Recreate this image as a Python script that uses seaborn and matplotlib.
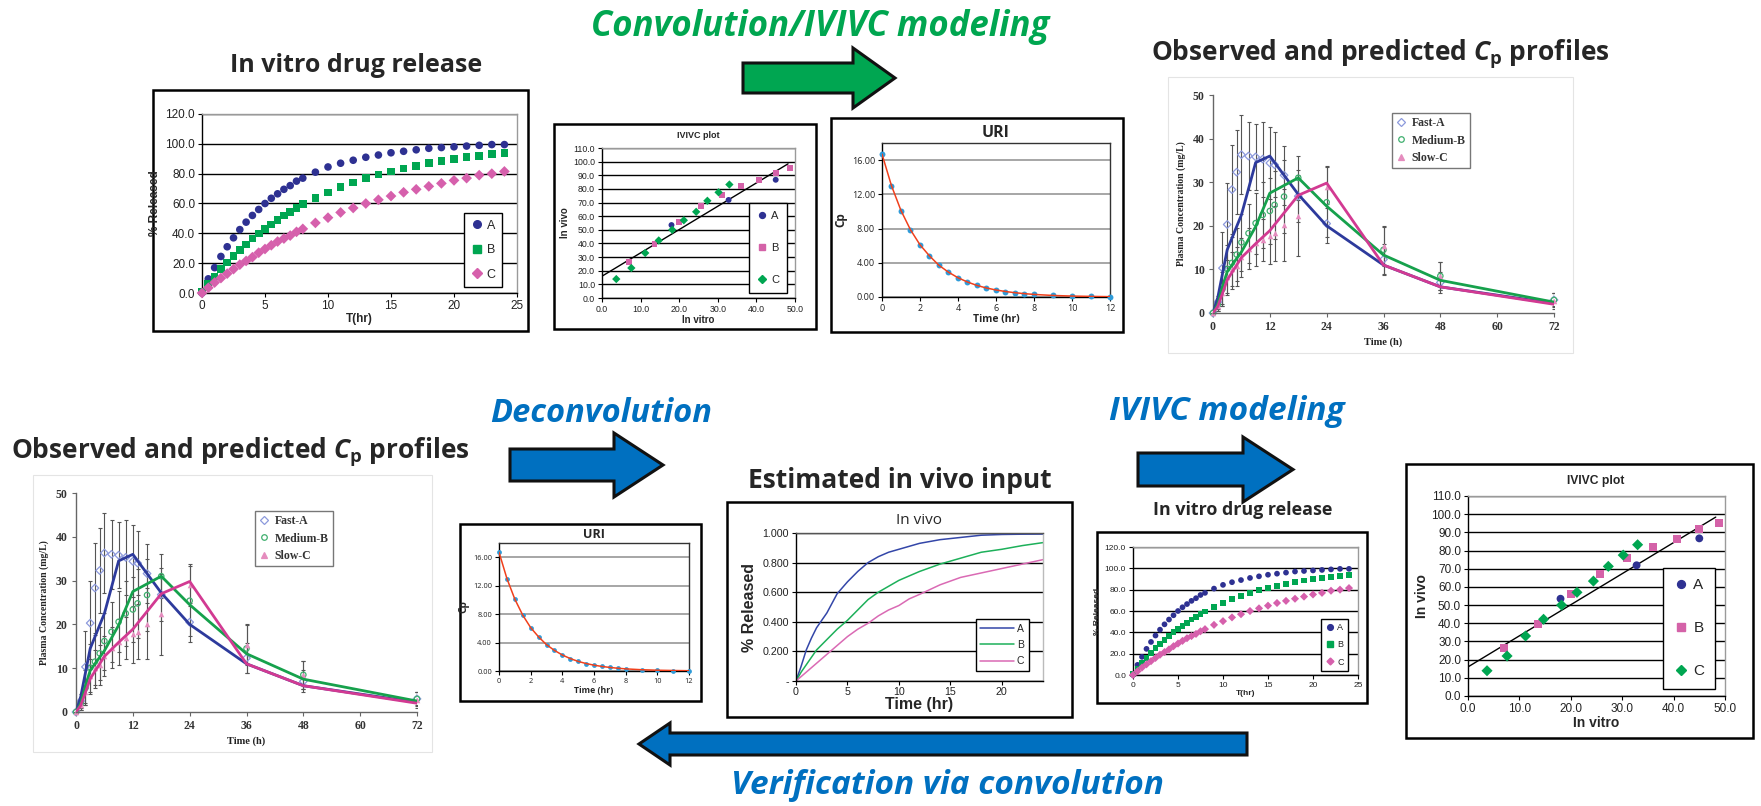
import numpy as np
import pandas as pd
import matplotlib
matplotlib.use("Agg")
import matplotlib.pyplot as plt
from matplotlib.patches import Rectangle, Polygon
from matplotlib.lines import Line2D
from matplotlib.ticker import FuncFormatter
import seaborn as sns

sns.set_theme(style="white")
plt.rcParams["font.family"] = ["Liberation Sans", "DejaVu Sans"]
plt.rcParams["mathtext.fontset"] = "custom"
plt.rcParams["mathtext.rm"] = "Open Sans:bold"
plt.rcParams["mathtext.it"] = "Open Sans:bold:italic"
plt.rcParams["mathtext.bf"] = "Open Sans:bold"

# ---------------- data ----------------
# in vitro dissolution, % released
release_t = [0, 0.5, 1, 1.5, 2, 2.5, 3, 3.5, 4, 4.5, 5, 5.5, 6, 6.5, 7, 7.5, 8,
             9, 10, 11, 12, 13, 14, 15, 16, 17, 18, 19, 20, 21, 22, 23, 24]
release_a = [0, 9.5, 17, 24.5, 31, 37, 42.5, 47.5, 52, 56, 60, 63.5, 66.5, 69.5, 72, 75, 77,
             81, 84.5, 87, 89, 91, 92.5, 94, 95, 96, 97, 97.5, 98, 98.5, 99, 99.5, 99.5]
release_b = [1, 6, 11, 16, 20.5, 25, 29, 32.5, 36.5, 40, 43, 46, 49, 52, 54.5, 57, 59.5,
             63.5, 67.5, 71, 74, 77, 79.5, 81.5, 83.5, 85, 87, 88.5, 90, 91, 92, 93, 94]
release_c = [0, 3.5, 7, 10, 13, 16, 19, 21.5, 24, 27, 29.5, 32, 34.5, 36.5, 38.5, 41, 43,
             47, 50.5, 54, 57, 60, 62.5, 65, 67.5, 69.5, 71.5, 73.5, 75.5, 77, 79, 80, 81.5]

# IVIVC: fraction dissolved in vitro vs fraction absorbed in vivo
ivivc_a_vitro = [18.0, 32.8, 45.0]
ivivc_a_vivo = [53.5, 71.9, 86.7]
ivivc_b_vitro = [6.95, 13.6, 20.0, 25.6, 31.0, 36.0, 40.7, 45.0, 48.8]
ivivc_b_vivo = [26.4, 39.4, 55.9, 67.3, 75.7, 82.1, 86.5, 91.8, 95.3]
ivivc_c_vitro = [3.7, 7.6, 11.2, 14.7, 18.2, 21.2, 24.4, 27.3, 30.2, 33.0]
ivivc_c_vivo = [13.9, 22.0, 33.0, 42.2, 50.0, 57.0, 63.2, 71.3, 77.5, 83.2]
fit_vitro = [0.0, 48.2]
fit_vivo = [16.0, 98.4]

# unit response (IV bolus) profile
uri_t = [0, 0.5, 1, 1.5, 2, 2.5, 3, 3.5, 4, 4.5, 5, 5.5, 6, 6.5, 7, 7.5, 8, 9, 10, 11, 12]
uri_cp = [16.7, 13.0, 10.1, 7.85, 6.1, 4.8, 3.7, 2.9, 2.25, 1.75, 1.35, 1.05, 0.82, 0.64,
          0.5, 0.39, 0.3, 0.18, 0.11, 0.07, 0.04]

# deconvolved in vivo input (fraction absorbed)
invivo_t = [0, 0.5, 1, 1.5, 2, 3, 4, 5, 6, 7, 8, 9, 10, 11, 12, 14, 16, 18, 20, 22, 24]
invivo_a = [0, 0.10, 0.21, 0.29, 0.36, 0.46, 0.59, 0.67, 0.74, 0.80, 0.84, 0.87, 0.89, 0.91,
            0.93, 0.955, 0.97, 0.985, 0.99, 0.992, 0.993]
invivo_b = [0, 0.06, 0.11, 0.16, 0.21, 0.28, 0.35, 0.41, 0.48, 0.55, 0.60, 0.64, 0.68, 0.71,
            0.74, 0.79, 0.83, 0.87, 0.89, 0.915, 0.935]
invivo_c = [0, 0.03, 0.06, 0.09, 0.12, 0.18, 0.24, 0.30, 0.35, 0.39, 0.44, 0.48, 0.51, 0.555,
            0.585, 0.65, 0.70, 0.73, 0.76, 0.79, 0.82]

# plasma concentration: predicted lines and observed mean +/- SD
pred_t = [0, 1, 2, 3, 6, 9, 12, 18, 24, 36, 48, 72]
pred_fast = [0, 3.5, 9, 14.5, 22.5, 34.5, 36, 27.2, 20, 11, 6, 2.2]
pred_medium = [0, 2, 6, 9.5, 14, 19.8, 27.5, 31, 24.5, 13.3, 7.5, 2.5]
pred_slow = [0, 1.5, 4.5, 7.6, 12.7, 15.9, 18.9, 27, 29.8, 11, 6, 2]

obs_t = [0, 1, 2, 3, 4, 5, 6, 7.5, 9, 10.5, 12, 13, 15, 18, 24, 36, 48, 72]
obs_fast = [0, 2.5, 10.3, 20.3, 28.3, 32.3, 36.3, 36.0, 35.8, 35.3, 34.4, 34.0, 31.6, 26.8,
            20.5, 12.3, 7.0, 3.0]
sd_fast = [0, 1.5, 8.2, 9.6, 10.2, 9.7, 9.1, 7.9, 7.6, 8.6, 8.2, 7.4, 6.8, 6.0, 4.5, 3.5, 2.5, 1.5]
obs_medium = [0, 2.0, 5.5, 10.1, 11.5, 13.4, 16.2, 18.3, 20.6, 22.5, 23.4, 24.8, 26.7, 31.0,
              25.4, 14.5, 8.5, 3.0]
sd_medium = [0, 1.5, 4.0, 5.5, 6.0, 6.0, 6.5, 6.8, 7.0, 7.5, 7.5, 7.8, 8.3, 5.0, 8.0, 5.5, 3.2, 1.6]
obs_slow = [0, 1.5, 4.6, 8.2, 10.1, 10.7, 12.8, 14.7, 16.0, 16.8, 17.7, 18.3, 20.2, 22.3,
            28.9, 15.3, 8.4, 2.7]
sd_slow = [0, 1.0, 3.0, 4.0, 4.0, 4.5, 4.5, 4.7, 5.3, 4.8, 6.4, 6.3, 8.2, 9.3, 4.8, 4.5, 3.2, 1.8]

lots = ["A", "B", "C"]
cp_names = ["Fast-A", "Medium-B", "Slow-C"]

# ---------------- styles ----------------
NAVY, GREEN, PINK = "#2E3192", "#00A651", "#D660AC"
release_palette = {"A": NAVY, "B": GREEN, "C": PINK}
release_markers = {"A": "o", "B": "s", "C": "D"}
ivivc_palette = {"A": NAVY, "B": "#D462A8", "C": "#00A651"}
ivivc_markers = {"A": "o", "B": "s", "C": "D"}
invivo_palette = {"A": "#3346A8", "B": "#1DB05A", "C": "#DA6AB4"}
cp_line = {"Fast-A": "#2D3A9C", "Medium-B": "#16A14C", "Slow-C": "#D23A92"}
cp_mark = {"Fast-A": "#8C99DC", "Medium-B": "#3FAF6E", "Slow-C": "#E58CBE"}
cp_shape = {"Fast-A": "D", "Medium-B": "o", "Slow-C": "^"}
TITLE_FONT = ["Open Sans", "DejaVu Sans"]
SERIF = ["Liberation Serif", "DejaVu Serif"]

W, H = 1761, 806
fig = plt.figure(figsize=(W / 100, H / 100), dpi=100)
fig.patch.set_facecolor("white")

deco = fig.add_axes([0, 0, 1, 1])
deco.set_xlim(0, W)
deco.set_ylim(H, 0)
deco.axis("off")


def ax_px(x0, y0, x1, y1):
    return fig.add_axes([x0 / W, 1 - y1 / H, (x1 - x0) / W, (y1 - y0) / H])


def frame(x0, y0, x1, y1, color="black", lw=1.8):
    deco.add_patch(Rectangle((x0, y0), x1 - x0, y1 - y0, fill=False, ec=color, lw=lw))


def arrow(x_tail, x_neck, x_tip, yc, body, head, color):
    pts = [(x_tail, yc - body), (x_neck, yc - body), (x_neck, yc - head), (x_tip, yc),
           (x_neck, yc + head), (x_neck, yc + body), (x_tail, yc + body)]
    deco.add_patch(Polygon(pts, closed=True, fc=color, ec="#111111", lw=2.2, joinstyle="miter"))


def style_excel(ax, fs, grid="black", frame_c="#9a9a9a", grid_lw=1.0):
    ax.set_facecolor("white")
    for s, sp in ax.spines.items():
        sp.set_visible(True)
        sp.set_linewidth(1.0)
        sp.set_color("black" if s in ("left", "bottom") else frame_c)
    ax.yaxis.grid(True, color=grid, lw=grid_lw)
    ax.xaxis.grid(False)
    ax.set_axisbelow(True)
    ax.tick_params(axis="both", direction="out", length=3, width=0.8, color="black",
                   labelsize=fs, pad=2, bottom=True, left=True, labelcolor="#222222")


def box_legend(ax, handles, labels, fs, spacing, anchor, loc="lower right", pad=0.5, hl=1.0):
    leg = ax.legend(handles, labels, loc=loc, bbox_to_anchor=anchor, fontsize=fs,
                    frameon=True, fancybox=False, framealpha=1, edgecolor="black",
                    labelspacing=spacing, borderpad=pad, handlelength=hl,
                    handletextpad=0.3, borderaxespad=0)
    leg.get_frame().set_linewidth(1.0)
    return leg


def draw_release(ax, fs, lab_fs, ms, leg_fs, leg_sp, anchor):
    n = len(release_t)
    df = pd.DataFrame({"T": release_t * 3,
                       "released": release_a + release_b + release_c,
                       "lot": ["A"] * n + ["B"] * n + ["C"] * n})
    sns.scatterplot(data=df, x="T", y="released", hue="lot", style="lot",
                    palette=release_palette, markers=release_markers, s=ms,
                    linewidth=0, legend=False, ax=ax, clip_on=False, zorder=3)
    ax.set_xlim(0, 25)
    ax.set_ylim(0, 120)
    ax.set_xticks(range(0, 26, 5))
    ax.set_yticks(range(0, 121, 20))
    ax.yaxis.set_major_formatter(FuncFormatter(lambda v, p: f"{v:.1f}"))
    style_excel(ax, fs)
    ax.set_xlabel("T(hr)", fontsize=lab_fs, fontweight="bold", labelpad=1)
    ax.set_ylabel("% Released", fontsize=lab_fs, fontweight="bold", labelpad=3)
    hs = [Line2D([], [], ls="none", marker=release_markers[k], color=release_palette[k],
                 markersize=np.sqrt(ms) * (0.85 if k == "C" else 1.0)) for k in lots]
    box_legend(ax, hs, lots, leg_fs, leg_sp, anchor)


def draw_ivivc(ax, fs, lab_fs, ms, leg_fs, leg_sp, anchor):
    df = pd.DataFrame({
        "vitro": ivivc_a_vitro + ivivc_b_vitro + ivivc_c_vitro,
        "vivo": ivivc_a_vivo + ivivc_b_vivo + ivivc_c_vivo,
        "lot": ["A"] * len(ivivc_a_vitro) + ["B"] * len(ivivc_b_vitro) + ["C"] * len(ivivc_c_vitro)})
    sns.lineplot(x=fit_vitro, y=fit_vivo, color="black", lw=1.0, ax=ax, zorder=2)
    sns.scatterplot(data=df, x="vitro", y="vivo", hue="lot", style="lot",
                    palette=ivivc_palette, markers=ivivc_markers, s=ms,
                    linewidth=0, legend=False, ax=ax, zorder=3)
    ax.set_xlim(0, 50)
    ax.set_ylim(0, 110)
    ax.set_xticks(range(0, 51, 10))
    ax.set_yticks(range(0, 111, 10))
    fmt = FuncFormatter(lambda v, p: f"{v:.1f}")
    ax.xaxis.set_major_formatter(fmt)
    ax.yaxis.set_major_formatter(fmt)
    style_excel(ax, fs)
    ax.set_xlabel("In vitro", fontsize=lab_fs, fontweight="bold", labelpad=1)
    ax.set_ylabel("In vivo", fontsize=lab_fs, fontweight="bold", labelpad=2)
    hs = [Line2D([], [], ls="none", marker=ivivc_markers[k], color=ivivc_palette[k],
                 markersize=np.sqrt(ms) * (0.85 if k == "C" else 1.0)) for k in lots]
    box_legend(ax, hs, lots, leg_fs, leg_sp, anchor, pad=0.7)


def draw_uri(ax, fs, lab_fs, ms):
    sns.scatterplot(x=uri_t, y=uri_cp, color="#2F9BD8", s=ms, marker="o", linewidth=0,
                    ax=ax, zorder=3, clip_on=False)
    sns.lineplot(x=uri_t, y=uri_cp, color="#F0401C", lw=1.1, ax=ax, zorder=4)
    ax.set_xlim(0, 12)
    ax.set_ylim(0, 18)
    ax.set_xticks(range(0, 13, 2))
    ax.set_yticks(range(0, 17, 4))
    ax.yaxis.set_major_formatter(FuncFormatter(lambda v, p: f"{v:.2f}"))
    style_excel(ax, fs, grid="#A6A6A6", frame_c="#333333", grid_lw=1.4)
    for lab in ax.get_xticklabels() + ax.get_yticklabels():
        lab.set_family(TITLE_FONT)
    ax.set_xlabel("Time (hr)", fontsize=lab_fs, fontweight="bold", family=TITLE_FONT, labelpad=1)
    ax.set_ylabel("Cp", fontsize=lab_fs + 1, fontweight="bold", family=TITLE_FONT, labelpad=3)


def draw_invivo(ax):
    n = len(invivo_t)
    df = pd.DataFrame({"t": invivo_t * 3, "frac": invivo_a + invivo_b + invivo_c,
                       "lot": ["A"] * n + ["B"] * n + ["C"] * n})
    sns.lineplot(data=df, x="t", y="frac", hue="lot", palette=invivo_palette, lw=1.1,
                 legend=False, ax=ax)
    ax.set_xlim(0, 24)
    ax.set_ylim(0, 1.0)
    ax.set_xticks(range(0, 21, 5))
    ax.set_yticks(np.arange(0, 1.01, 0.2))
    ax.yaxis.set_major_formatter(FuncFormatter(lambda v, p: "-" if abs(v) < 1e-9 else f"{v:.3f}"))
    style_excel(ax, 7.7, frame_c="#bbbbbb")
    ax.spines["top"].set_color("#555555")
    ax.tick_params(axis="x", length=3, pad=1.5)
    ax.set_xlabel("Time (hr)", fontsize=11.5, fontweight="bold", labelpad=0)
    ax.set_ylabel("% Released", fontsize=11.5, fontweight="bold", labelpad=4)
    hs = [Line2D([], [], color=invivo_palette[k], lw=1.1) for k in lots]
    box_legend(ax, hs, lots, 7.5, 0.6, (0.943, 0.068), hl=3.2, pad=0.45)


def draw_cp(ax):
    pred = pd.DataFrame({"t": pred_t * 3, "cp": pred_fast + pred_medium + pred_slow,
                         "form": [cp_names[0]] * len(pred_t) + [cp_names[1]] * len(pred_t)
                         + [cp_names[2]] * len(pred_t)})
    obs = {cp_names[0]: (obs_fast, sd_fast), cp_names[1]: (obs_medium, sd_medium),
           cp_names[2]: (obs_slow, sd_slow)}
    for name, (m, sd) in obs.items():
        ax.errorbar(obs_t, m, yerr=sd, fmt="none", ecolor="#555555", elinewidth=0.8,
                    capsize=1.6, capthick=0.8, zorder=1)
    for name, (m, sd) in obs.items():
        if name == "Slow-C":
            sns.scatterplot(x=obs_t, y=m, marker=cp_shape[name], s=16, color=cp_mark[name],
                            linewidth=0, ax=ax, zorder=2, clip_on=False)
        else:
            sns.scatterplot(x=obs_t, y=m, marker=cp_shape[name], s=15, color=cp_mark[name],
                            facecolor="none", edgecolor=cp_mark[name], linewidth=0.9,
                            ax=ax, zorder=2, clip_on=False)
    sns.lineplot(data=pred, x="t", y="cp", hue="form", palette=cp_line, lw=2.0,
                 legend=False, ax=ax, zorder=3)
    ax.set_xlim(0, 72)
    ax.set_ylim(0, 50)
    ax.set_xticks(range(0, 73, 12))
    ax.set_yticks(range(0, 51, 10))
    ax.set_facecolor("white")
    for s in ("top", "right"):
        ax.spines[s].set_visible(False)
    for s in ("left", "bottom"):
        ax.spines[s].set_color("#666666")
        ax.spines[s].set_linewidth(1.0)
    ax.grid(False)
    ax.tick_params(direction="out", length=3, width=0.8, color="#666666", labelsize=8.5,
                   labelcolor="#333333", bottom=True, left=True, pad=3)
    for lab in ax.get_xticklabels() + ax.get_yticklabels():
        lab.set_family(SERIF)
        lab.set_fontweight("bold")
    ax.set_xlabel("Time (h)", fontsize=7.5, fontweight="bold", family=SERIF, color="#222222",
                  labelpad=3)
    ax.set_ylabel("Plasma Concentration (mg/L)", fontsize=7, fontweight="bold",
                  family=SERIF, color="#222222", labelpad=5)
    hs = [Line2D([], [], ls="none", marker=cp_shape[k], markersize=4,
                 markerfacecolor=("none" if k != "Slow-C" else cp_mark[k]),
                 markeredgecolor=cp_mark[k], markeredgewidth=0.9) for k in cp_names]
    leg = ax.legend(hs, cp_names, loc="upper left", bbox_to_anchor=(0.525, 0.917),
                    prop={"family": SERIF, "weight": "bold", "size": 8.5},
                    frameon=True, fancybox=False, framealpha=1, edgecolor="#777777",
                    labelspacing=0.45, borderpad=0.35, handlelength=0.9,
                    handletextpad=0.4, borderaxespad=0)
    for t in leg.get_texts():
        t.set_color("#333333")


# ---------------- boxes, arrows and captions ----------------
frame(153, 90, 528, 331)
frame(554, 124, 816, 329)
frame(831, 118, 1123, 332)
frame(1168, 77, 1573, 353, color="#e4e4e4", lw=0.8)
frame(33, 475, 432, 752, color="#e4e4e4", lw=0.8)
frame(460, 524, 701, 701)
frame(727, 502, 1072, 717)
frame(1097, 532, 1367, 703)
frame(1406, 464, 1753, 738)

arrow(743, 853, 895, 78, 15, 30, "#00A651")
arrow(510, 614, 663, 465, 16, 32, "#0070C0")
arrow(1138, 1243, 1293, 469.5, 16.5, 32.5, "#0070C0")
arrow(1247, 670, 639, 744, 11, 21, "#0070C0")

cap_kw = dict(ha="center", va="center", family=TITLE_FONT, fontweight="bold")
flow_kw = dict(ha="center", va="center", family=TITLE_FONT, fontweight="bold", style="italic")
deco.text(820, 27, "Convolution/IVIVC modeling", color="#00A650", fontsize=25, **flow_kw)
deco.text(601, 414, "Deconvolution", color="#0070C0", fontsize=23.5, **flow_kw)
deco.text(1227, 411, "IVIVC modeling", color="#0070C0", fontsize=24, **flow_kw)
deco.text(947, 785, "Verification via convolution", color="#0070C0", fontsize=24, **flow_kw)

deco.text(356, 65, "In vitro drug release", fontsize=18, **cap_kw)
deco.text(1380, 54, r"Observed and predicted $C_\mathrm{p}$ profiles", fontsize=19, **cap_kw)
deco.text(240, 452, r"Observed and predicted $C_\mathrm{p}$ profiles", fontsize=19, **cap_kw)
deco.text(900, 480, "Estimated in vivo input", fontsize=19, **cap_kw)
deco.text(1243, 510, "In vitro drug release", fontsize=12.9, **cap_kw)

deco.text(698, 136, "IVIVC plot", fontsize=6.5, ha="center", va="center", fontweight="bold")
deco.text(1596, 481, "IVIVC plot", fontsize=8.7, ha="center", va="center", fontweight="bold")
deco.text(996, 133, "URI", fontsize=11.5, **cap_kw)
deco.text(594, 534, "URI", fontsize=9, **cap_kw)
deco.text(919, 521, "In vivo", fontsize=11, ha="center", va="center", family=TITLE_FONT)

# ---------------- chart panels ----------------
draw_release(ax_px(202, 114, 517, 293), fs=8.5, lab_fs=8.5, ms=30, leg_fs=9, leg_sp=1.0,
             anchor=(0.952, 0.034))
draw_ivivc(ax_px(602, 148, 795, 298), fs=6.3, lab_fs=7, ms=18, leg_fs=8, leg_sp=2.0,
           anchor=(0.959, 0.033))
draw_uri(ax_px(882, 143, 1110, 297), fs=6.5, lab_fs=7.5, ms=18)
draw_cp(ax_px(1213, 95, 1554, 313))
draw_cp(ax_px(76, 493, 417, 712))
draw_uri(ax_px(499, 543, 689, 671), fs=5.3, lab_fs=6.3, ms=12)
draw_invivo(ax_px(796, 533, 1043, 681))
draw_release(ax_px(1133, 547, 1358, 675), fs=6, lab_fs=6, ms=17, leg_fs=6.5, leg_sp=0.9,
             anchor=(0.956, 0.031))
draw_ivivc(ax_px(1468, 496, 1725, 696), fs=8.5, lab_fs=10, ms=32, leg_fs=11, leg_sp=1.9,
           anchor=(0.961, 0.035))

fig.savefig("out.png", dpi=100, facecolor="white")
